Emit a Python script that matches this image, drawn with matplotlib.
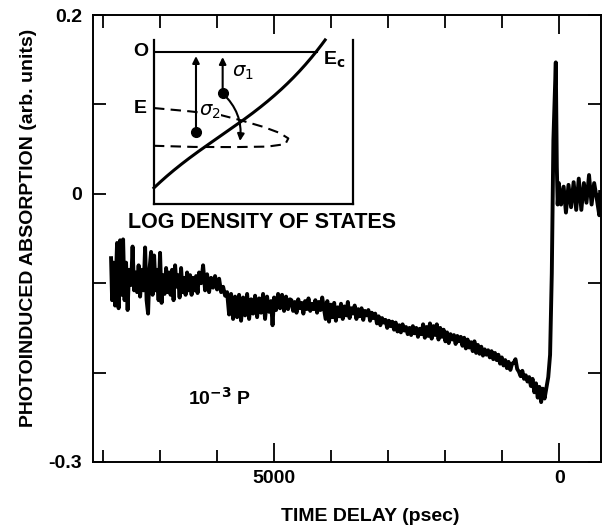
import numpy as np
import matplotlib
matplotlib.use('Agg')
import matplotlib.pyplot as plt
from matplotlib.patches import FancyArrowPatch

plt.rcParams['font.family'] = ['Liberation Sans', 'DejaVu Sans']

# ---------------- data ----------------
# early, very noisy part (psec, arb. units)
time_early = [
    7863, 7845, 7819, 7793, 7758, 7731, 7705, 7679, 7652, 7626, 7600, 7573, 7547, 7512,
    7486, 7459, 7433, 7407, 7380, 7354, 7319, 7293, 7266, 7240, 7214, 7187, 7161, 7135,
    7108, 7082, 7056, 7030, 7004, 6977, 6951, 6925, 6898, 6872, 6846, 6819, 6793, 6767,
    6740, 6714, 6688, 6661, 6635, 6609, 6582, 6556, 6530, 6504, 6477, 6451, 6425, 6398,
    6372, 6346, 6319,
    6284, 6249, 6214, 6179, 6144, 6109, 6074, 6039, 6004, 5968, 5933, 5898, 5863, 5828,
    5793, 5758, 5723, 5688, 5653, 5618, 5583, 5547, 5512, 5477, 5442, 5407, 5372, 5337,
    5302, 5267, 5232, 5197, 5162, 5127, 5092, 5057, 5031, 5004, 4969, 4934, 4899, 4864,
    4829, 4794, 4759, 4724,
]
abs_early = [
    -0.072, -0.119, -0.077, -0.125, -0.055, -0.128, -0.052, -0.113, -0.051, -0.119, -0.077, -0.130, -0.085, -0.102,
    -0.059, -0.108, -0.088, -0.110, -0.080, -0.115, -0.085, -0.108, -0.060, -0.119, -0.134, -0.083, -0.065, -0.113,
    -0.069, -0.108, -0.085, -0.119, -0.066, -0.122, -0.091, -0.112, -0.083, -0.110, -0.088, -0.113, -0.085, -0.119,
    -0.080, -0.104, -0.091, -0.116, -0.083, -0.110, -0.094, -0.113, -0.088, -0.108, -0.091, -0.113, -0.094, -0.108,
    -0.092, -0.111, -0.088,
    -0.100, -0.080, -0.108, -0.090, -0.110, -0.094, -0.105, -0.092, -0.107, -0.095, -0.110, -0.104, -0.114, -0.110,
    -0.135, -0.112, -0.140, -0.115, -0.138, -0.113, -0.142, -0.116, -0.136, -0.112, -0.140, -0.118, -0.134, -0.114,
    -0.138, -0.117, -0.133, -0.112, -0.140, -0.115, -0.132, -0.120, -0.147, -0.116, -0.130, -0.112, -0.128, -0.113,
    -0.131, -0.115, -0.129, -0.118,
]

# slow decay part, sampled every 30 psec from 4700 to 260 psec
time_mid = list(range(4700, 250, -30))
abs_mid = [
    -0.119, -0.131, -0.121, -0.133, -0.118, -0.128, -0.122, -0.134, -0.120, -0.129,
    -0.117, -0.131, -0.123, -0.129, -0.119, -0.133, -0.121, -0.130, -0.116, -0.128,
    -0.140, -0.120, -0.143, -0.124, -0.138, -0.122, -0.142, -0.127, -0.137, -0.123,
    -0.140, -0.126, -0.136, -0.121, -0.139, -0.128, -0.134, -0.125, -0.140, -0.129,
    -0.137, -0.128, -0.141, -0.131, -0.136, -0.130, -0.142, -0.133, -0.139, -0.134,
    -0.145, -0.137, -0.147, -0.139, -0.144, -0.141, -0.150, -0.142, -0.148, -0.143,
    -0.152, -0.144, -0.154, -0.147, -0.155, -0.146, -0.153, -0.149, -0.157, -0.150,
    -0.158, -0.148, -0.156, -0.150, -0.160, -0.151, -0.157, -0.146, -0.161, -0.149,
    -0.159, -0.145, -0.162, -0.148, -0.158, -0.146, -0.163, -0.150, -0.160, -0.152,
    -0.165, -0.155, -0.167, -0.157, -0.163, -0.158, -0.168, -0.159, -0.165, -0.160,
    -0.170, -0.161, -0.173, -0.163, -0.172, -0.166, -0.176, -0.165, -0.178, -0.169,
    -0.179, -0.171, -0.181, -0.174, -0.180, -0.175, -0.183, -0.176, -0.185, -0.178,
    -0.186, -0.180, -0.190, -0.183, -0.192, -0.186, -0.195, -0.188, -0.197, -0.190,
    -0.189, -0.185, -0.196, -0.199, -0.204, -0.198, -0.207, -0.203, -0.210, -0.205,
    -0.215, -0.207, -0.222, -0.212, -0.228, -0.216, -0.233, -0.218, -0.229,
]

# rise, spike at zero delay and negative-delay baseline
time_late = [
    220, 195, 175, 163, 133, 105, 63, 45, 30,
    10, -30, -75, -115, -160, -205, -250, -295, -340, -385, -430, -475, -520, -565,
    -610, -655, -700, -715,
]
abs_late = [
    -0.214, -0.205, -0.190, -0.180, -0.089, 0.060, 0.147, 0.030, -0.012,
    0.012, -0.012, 0.008, -0.021, 0.010, -0.015, 0.013, -0.018, 0.017, -0.018, 0.012, -0.010, 0.021, -0.012,
    0.012, -0.005, -0.024, 0.002,
]

x_major = [5000, 0]
x_major_labels = ['5000', '0']
x_minor = [8000, 7000, 6000, 4000, 3000, 2000, 1000]
y_major = [0.2, 0.0, -0.3]
y_major_labels = ['0.2', '0', '-0.3']
y_minor = [0.1, -0.1, -0.2]

FS = 14
FW = 'bold'

time_ps = time_early + time_mid + time_late
absorption = abs_early + abs_mid + abs_late

fig = plt.figure(figsize=(6.03, 5.29), dpi=100)
ax = fig.add_axes([93 / 603, 1 - 462 / 529, 508 / 603, 447 / 529])
ax.plot(time_ps, absorption, color='black', lw=2.8)
ax.set_xlim(8180, -730)
ax.set_ylim(-0.3, 0.2)

ax.set_xticks(x_major)
ax.set_xticklabels(x_major_labels, fontsize=FS, fontweight=FW)
ax.set_xticks(x_minor, minor=True)
ax.set_yticks(y_major)
ax.set_yticklabels(y_major_labels, fontsize=FS, fontweight=FW)
ax.set_yticks(y_minor, minor=True)
ax.tick_params(axis='x', which='major', direction='in', top=True, bottom=True,
               length=14, width=1.3, pad=6)
ax.tick_params(axis='x', which='minor', direction='in', top=True, bottom=True,
               length=9, width=1.3)
ax.tick_params(axis='y', which='both', direction='in', left=True, right=True,
               length=9.5, width=1.3, pad=8)
for s in ax.spines.values():
    s.set_linewidth(1.4)

ax.set_xlabel('TIME DELAY (psec)', fontsize=FS, fontweight=FW)
ax.xaxis.set_label_coords((370 - 93) / 508, -0.103)
ax.set_ylabel('PHOTOINDUCED ABSORPTION (arb. units)', fontsize=FS, fontweight=FW)
ax.yaxis.set_label_coords((37 - 93) / 508, 0.523)

ax.text(0.187, 0.1275, r'10$^{\mathbf{-3}}$ P', transform=ax.transAxes,
        fontsize=FS, fontweight=FW, ha='left', va='baseline')

# ---------------- inset schematic ----------------
ins = fig.add_axes([154 / 603, 1 - 204 / 529, 199 / 603, 164 / 529])
ins.set_xlim(0, 1)
ins.set_ylim(0, 1)
ins.set_xticks([])
ins.set_yticks([])
ins.spines['top'].set_visible(False)
for s in ['left', 'right', 'bottom']:
    ins.spines[s].set_linewidth(1.6)
ins.patch.set_alpha(0)

# band-edge curve (log density of states)
cu = [0.005, 0.256, 0.432, 0.583, 0.683, 0.767, 0.817, 0.859]
cw = [0.106, 0.340, 0.508, 0.645, 0.736, 0.858, 0.935, 1.0]
coef = np.polyfit(cu, cw, 3)
uu = np.linspace(0.0, 0.86, 200)
ins.plot(uu, np.polyval(coef, uu), color='black', lw=2.2, clip_on=False)

# zero-energy line
ins.plot([0, 0.817], [0.927, 0.927], color='black', lw=1.5)

# dashed defect band
du = [0.0, 0.18, 0.33, 0.432, 0.55, 0.63, 0.675, 0.66, 0.57, 0.40, 0.20, 0.0]
dw = [0.585, 0.565, 0.544, 0.512, 0.470, 0.434, 0.400, 0.365, 0.350, 0.347, 0.348, 0.355]
ins.plot(du, dw, color='black', lw=1.5, ls=(0, (5, 3)))

# vertical arrows and dots
ins.annotate('', xy=(0.211, 0.902), xytext=(0.211, 0.439),
             arrowprops=dict(arrowstyle='-|>', color='black', lw=1.5,
                             mutation_scale=10, shrinkA=0, shrinkB=0))
ins.annotate('', xy=(0.345, 0.896), xytext=(0.345, 0.675),
             arrowprops=dict(arrowstyle='-|>', color='black', lw=1.5,
                             mutation_scale=10, shrinkA=0, shrinkB=0))
ins.add_patch(FancyArrowPatch((0.345, 0.675), (0.432, 0.384),
                              connectionstyle='arc3,rad=-0.25',
                              arrowstyle='-|>', mutation_scale=10,
                              color='black', lw=1.5, shrinkA=0, shrinkB=0))
ins.plot([0.211, 0.345], [0.439, 0.675], 'o', color='black', ms=7, ls='none')

ins.text(0.39, 0.80, r'$\sigma_1$', fontsize=FS, ha='left', va='center')
ins.text(0.225, 0.56, r'$\sigma_2$', fontsize=FS, ha='left', va='center',
         bbox=dict(facecolor='white', edgecolor='none', pad=0.5))
ins.text(-0.03, 0.927, 'O', fontsize=FS, fontweight=FW, ha='right', va='center')
ins.text(-0.035, 0.585, 'E', fontsize=FS, fontweight=FW, ha='right', va='center')
ins.text(0.849, 0.878, r'E$_{\mathbf{c}}$', fontsize=FS, fontweight=FW, ha='left', va='center')
ins.text(0.545, -0.110, 'LOG DENSITY OF STATES', fontsize=15.5, fontweight=FW,
         ha='center', va='center', clip_on=False)

fig.savefig('out.png', dpi=100, facecolor='white')
